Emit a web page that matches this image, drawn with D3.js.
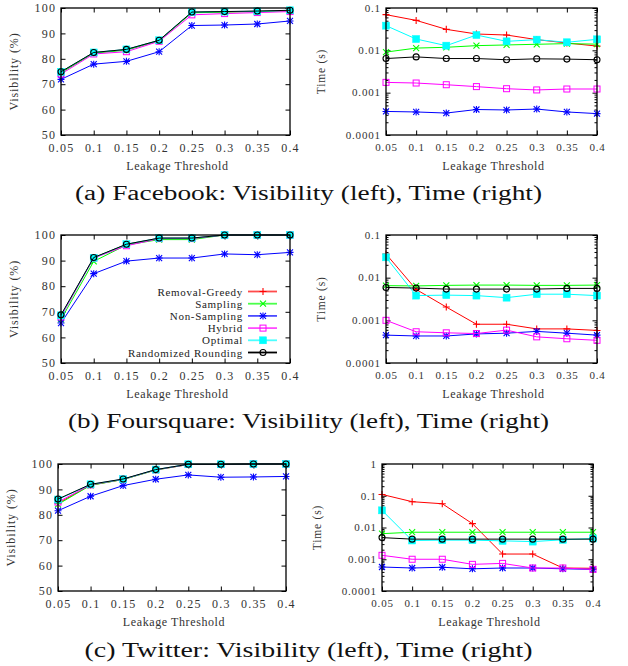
<!DOCTYPE html>
<html><head><meta charset="utf-8">
<script src="https://cdn.jsdelivr.net/npm/d3@7"></script>
<style>body{margin:0;background:#fff}svg{display:block}</style>
</head><body>
<svg id="chart" width="628" height="666"></svg>
<script>
// ---------------- DATA ----------------
const thresholds = [0.05, 0.1, 0.15, 0.2, 0.25, 0.3, 0.35, 0.4];
const xTickLabels = ["0.05", "0.1", "0.15", "0.2", "0.25", "0.3", "0.35", "0.4"];
const methods = ["Removal-Greedy", "Sampling", "Non-Sampling", "Hybrid", "Optimal", "Randomized Rounding"];
const colors = ["#ff0000", "#00ff00", "#0000ff", "#ff00ff", "#00ffff", "#000000"];
const markerTypes = ["plus", "cross", "star", "square", "filledSquare", "circle"];
const visTicks = [50, 60, 70, 80, 90, 100];
const timeTicksAB = [0.0001, 0.001, 0.01, 0.1];
const timeTicksC = [0.0001, 0.001, 0.01, 0.1, 1];
const captions = [
  "(a) Facebook: Visibility (left), Time (right)",
  "(b) Foursquare: Visibility (left), Time (right)",
  "(c) Twitter: Visibility (left), Time (right)"
];

// Facebook visibility (%)
const fbVisRG  = [74.8, 82.4, 83.6, 87.2, 98.3, 98.5, 98.7, 99.0];
const fbVisS   = [74.5, 82.2, 83.4, 87.1, 98.1, 98.4, 98.6, 98.9];
const fbVisNS  = [71.9, 77.9, 79.0, 82.8, 93.1, 93.3, 93.7, 94.9];
const fbVisH   = [74.0, 81.9, 82.8, 86.9, 97.3, 97.8, 98.2, 98.6];
const fbVisO   = [74.9, 82.5, 83.7, 87.3, 98.4, 98.6, 98.7, 99.1];
const fbVisRR  = [74.9, 82.5, 83.7, 87.3, 98.4, 98.6, 98.8, 99.1];
// Facebook time (s)
const fbTimeRG = [0.0696, 0.051, 0.0313, 0.0243, 0.023, 0.0179, 0.0149, 0.0126];
const fbTimeS  = [0.0091, 0.0113, 0.0118, 0.0129, 0.0134, 0.0139, 0.0144, 0.014];
const fbTimeNS = [0.00036, 0.00035, 0.00033, 0.0004, 0.00039, 0.00041, 0.00035, 0.00032];
const fbTimeH  = [0.00175, 0.00169, 0.00154, 0.00139, 0.00124, 0.00116, 0.00122, 0.00122];
const fbTimeO  = [0.0383, 0.0185, 0.0129, 0.023, 0.0163, 0.0179, 0.0155, 0.0182];
const fbTimeRR = [0.0064, 0.007, 0.0064, 0.0064, 0.006, 0.0063, 0.0062, 0.006];

// Foursquare visibility (%)
const fsVisRG  = [68.6, 91.1, 96.3, 98.7, 98.7, 100, 100, 100];
const fsVisS   = [67.0, 89.7, 96.1, 98.2, 98.2, 100, 100, 100];
const fsVisNS  = [65.6, 84.9, 89.8, 91.0, 91.0, 92.6, 92.3, 93.2];
const fsVisH   = [68.0, 91.0, 95.8, 98.6, 98.6, 100, 100, 100];
const fsVisO   = [68.6, 91.1, 96.4, 98.8, 98.8, 100, 100, 100];
const fsVisRR  = [68.8, 91.2, 96.4, 98.8, 98.8, 100, 100, 100];
// Foursquare time (s)
const fsTimeRG = [0.0359, 0.0053, 0.00205, 0.00081, 0.00081, 0.00063, 0.00063, 0.00058];
const fsTimeS  = [0.0065, 0.0064, 0.0066, 0.0067, 0.0067, 0.0066, 0.0066, 0.0067];
const fsTimeNS = [0.00045, 0.00043, 0.00043, 0.00048, 0.0005, 0.00055, 0.0005, 0.00045];
const fsTimeH  = [0.001, 0.00054, 0.00051, 0.00049, 0.00059, 0.00041, 0.00037, 0.00034];
const fsTimeO  = [0.030, 0.0038, 0.0039, 0.0038, 0.0034, 0.0041, 0.0041, 0.0038];
const fsTimeRR = [0.0059, 0.0057, 0.0054, 0.0054, 0.0054, 0.0054, 0.0056, 0.0056];

// Twitter visibility (%)
const twVisRG  = [84.5, 91.7, 93.9, 97.7, 99.8, 99.8, 100, 100];
const twVisS   = [84.1, 91.6, 93.9, 97.6, 99.8, 99.8, 100, 100];
const twVisNS  = [81.6, 87.3, 91.5, 94.0, 95.7, 94.8, 94.9, 95.1];
const twVisH   = [85.0, 91.8, 94.0, 97.7, 99.8, 99.8, 100, 100];
const twVisO   = [86.0, 92.0, 94.0, 97.8, 99.9, 99.9, 100, 100];
const twVisRR  = [86.2, 92.0, 94.1, 97.8, 99.9, 99.9, 100, 100];
// Twitter time (s)
const twTimeRG = [0.11, 0.065, 0.056, 0.0132, 0.00146, 0.00146, 0.00053, 0.00052];
const twTimeS  = [0.0064, 0.0071, 0.0071, 0.0071, 0.0071, 0.0071, 0.0071, 0.0071];
const twTimeNS = [0.00057, 0.00053, 0.00056, 0.0005, 0.00053, 0.00053, 0.0005, 0.00048];
const twTimeH  = [0.00133, 0.001, 0.001, 0.00069, 0.00074, 0.00053, 0.00053, 0.00048];
const twTimeO  = [0.0347, 0.0039, 0.004, 0.004, 0.0038, 0.0036, 0.0041, 0.0045];
const twTimeRR = [0.0048, 0.0043, 0.0043, 0.0043, 0.0043, 0.0043, 0.0043, 0.0043];

// ---------------- DRAWING ----------------
const svg = d3.select("#chart");
const FONT = "Liberation Serif, Times New Roman, serif";

function drawMarker(g, type, color) {
  const s = 3.5;
  if (type === "plus" || type === "star")
    g.append("path").attr("d", `M${-s},0H${s}M0,${-s}V${s}`).attr("stroke", color).attr("stroke-width", 1.1).attr("fill", "none");
  if (type === "cross" || type === "star")
    g.append("path").attr("d", `M-3,-3L3,3M-3,3L3,-3`).attr("stroke", color).attr("stroke-width", 1.1).attr("fill", "none");
  if (type === "square")
    g.append("rect").attr("x", -3).attr("y", -3).attr("width", 6).attr("height", 6).attr("fill", "none").attr("stroke", color).attr("stroke-width", 1);
  if (type === "filledSquare")
    g.append("rect").attr("x", -3.5).attr("y", -3.5).attr("width", 7).attr("height", 7).attr("fill", color).attr("stroke", color).attr("stroke-width", 0.5);
  if (type === "circle")
    g.append("circle").attr("r", 3).attr("fill", "none").attr("stroke", color).attr("stroke-width", 1.1);
}

function panel(cfg) {
  const g = svg.append("g").attr("font-family", FONT);
  const x = d3.scaleLinear().domain([0.05, 0.4]).range([cfg.x0, cfg.x1]);
  const y = cfg.log
    ? d3.scaleLog().domain([cfg.yTicks[0], cfg.yTicks[cfg.yTicks.length - 1]]).range([cfg.y1, cfg.y0])
    : d3.scaleLinear().domain([50, 100]).range([cfg.y1, cfg.y0]);
  const fs = cfg.fontSize, ls = cfg.letterSpacing;

  g.append("g").attr("transform", `translate(0,${cfg.y1})`)
    .call(d3.axisBottom(x).tickValues(thresholds).tickFormat((d, i) => xTickLabels[i]).tickSize(-4.5).tickPadding(8));
  g.append("g").attr("transform", `translate(0,${cfg.y0})`)
    .call(d3.axisTop(x).tickValues(thresholds).tickFormat("").tickSize(-4.5));
  const yl = g.append("g").attr("transform", `translate(${cfg.x0},0)`)
    .call(d3.axisLeft(y).tickValues(cfg.yTicks).tickFormat(d => String(d)).tickSize(-4.5).tickPadding(6));
  g.append("g").attr("transform", `translate(${cfg.x1},0)`)
    .call(d3.axisRight(y).tickValues(cfg.yTicks).tickFormat("").tickSize(-4.5));
  if (cfg.log) {
    const minors = [];
    for (let k = 0; k < cfg.yTicks.length - 1; k++)
      for (let m = 2; m <= 9; m++) minors.push(cfg.yTicks[k] * m);
    g.append("g").attr("transform", `translate(${cfg.x0},0)`)
      .call(d3.axisLeft(y).tickValues(minors).tickFormat("").tickSize(-2.5));
    g.append("g").attr("transform", `translate(${cfg.x1},0)`)
      .call(d3.axisRight(y).tickValues(minors).tickFormat("").tickSize(-2.5));
  }
  g.selectAll(".domain").remove();
  g.selectAll("g").attr("font-family", FONT);
  g.selectAll(".tick line").attr("stroke", "#000").attr("stroke-width", 1);
  g.selectAll(".tick text").attr("font-family", FONT).attr("font-size", fs).attr("fill", "#333")
    .style("letter-spacing", ls + "px");
  yl.selectAll(".tick text").attr("dx", ls).attr("dy", "0.3em");

  const line = d3.line().x((d, i) => x(thresholds[i])).y(d => y(d));
  cfg.series.forEach((vals, si) => {
    g.append("path").attr("d", line(vals)).attr("fill", "none")
      .attr("stroke", colors[si]).attr("stroke-width", 1);
    vals.forEach((v, i) => {
      const mg = g.append("g").attr("transform", `translate(${x(thresholds[i])},${y(v)})`);
      drawMarker(mg, markerTypes[si], colors[si]);
    });
  });

  g.append("rect").attr("x", cfg.x0).attr("y", cfg.y0)
    .attr("width", cfg.x1 - cfg.x0).attr("height", cfg.y1 - cfg.y0)
    .attr("fill", "none").attr("stroke", "#000").attr("stroke-width", 1.3);

  g.append("text").attr("x", (cfg.x0 + cfg.x1) / 2 + 2).attr("y", cfg.y1 + 35)
    .attr("text-anchor", "middle").attr("font-size", 12)
    .style("letter-spacing", "0.6px").attr("fill", "#333").text("Leakage Threshold");
  g.append("text").attr("transform", `translate(${cfg.yTitleX},${(cfg.y0 + cfg.y1) / 2}) rotate(-90)`)
    .attr("text-anchor", "middle").attr("font-size", cfg.log ? 11.5 : 12)
    .style("letter-spacing", cfg.log ? "0.8px" : "0.9px").attr("fill", "#333")
    .text(cfg.log ? "Time (s)" : "Visibility (%)");

  if (cfg.legend) {
    const lg = g.append("g");
    methods.forEach((m, i) => {
      const yy = 291.5 + i * 12.2;
      lg.append("text").attr("x", 243).attr("y", yy + 4).attr("text-anchor", "end")
        .attr("font-size", 11).style("letter-spacing", "0.7px")
        .attr("fill", "#222").text(m);
      lg.append("line").attr("x1", 248).attr("x2", 277).attr("y1", yy).attr("y2", yy)
        .attr("stroke", colors[i]).attr("stroke-width", 1.8).attr("opacity", i === 5 ? 1 : 0.7);
      const mg = lg.append("g").attr("transform", `translate(263,${yy})`);
      drawMarker(mg, markerTypes[i], colors[i]);
    });
  }
}

const rows = [
  { vis: [fbVisRG, fbVisS, fbVisNS, fbVisH, fbVisO, fbVisRR], time: [fbTimeRG, fbTimeS, fbTimeNS, fbTimeH, fbTimeO, fbTimeRR], ticks: timeTicksAB },
  { vis: [fsVisRG, fsVisS, fsVisNS, fsVisH, fsVisO, fsVisRR], time: [fsTimeRG, fsTimeS, fsTimeNS, fsTimeH, fsTimeO, fsTimeRR], ticks: timeTicksAB },
  { vis: [twVisRG, twVisS, twVisNS, twVisH, twVisO, twVisRR], time: [twTimeRG, twTimeS, twTimeNS, twTimeH, twTimeO, twTimeRR], ticks: timeTicksC }
];
const layout = [
  { L: [61, 290, 8, 135], R: [386, 597, 8, 135], ltx: 18, rtx: 325, cap: 200 },
  { L: [61, 290, 235, 363], R: [386, 597, 235, 363], ltx: 18, rtx: 325, cap: 428 },
  { L: [58, 286, 464, 591], R: [382, 593, 464, 591], ltx: 15, rtx: 321, cap: 657 }
];

rows.forEach((r, k) => {
  const Lo = layout[k];
  panel({ x0: Lo.L[0], x1: Lo.L[1], y0: Lo.L[2], y1: Lo.L[3], log: false, yTicks: visTicks,
          series: r.vis, fontSize: 12, letterSpacing: 1.2, yTitleX: Lo.ltx, legend: k === 1 });
  panel({ x0: Lo.R[0], x1: Lo.R[1], y0: Lo.R[2], y1: Lo.R[3], log: true, yTicks: r.ticks,
          series: r.time, fontSize: 11, letterSpacing: 0.8, yTitleX: Lo.rtx, legend: false });
});

const capLen = [467, 481, 448];
captions.forEach((c, k) => {
  svg.append("text").attr("x", 308.5).attr("y", layout[k].cap).attr("text-anchor", "middle")
    .attr("font-family", FONT).attr("font-size", 20).attr("fill", "#111")
    .attr("textLength", capLen[k]).attr("lengthAdjust", "spacingAndGlyphs").text(c);
});
</script>
</body></html>
